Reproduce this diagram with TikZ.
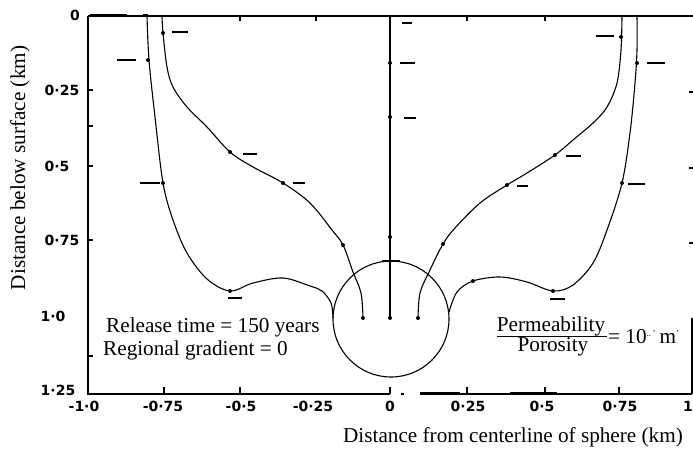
\documentclass[tikz,border=0pt]{standalone}
\usepackage{fontspec}
\setmainfont{Liberation Serif}
\newfontfamily\tickfont{DejaVu Sans}
\begin{document}
\begin{tikzpicture}[x=1pt,y=-1pt,
  axis/.style={line width=1.6pt},
  thickaxis/.style={line width=2.8pt},
  curve/.style={line width=1.1pt, smooth, tension=0.55},
  centreline/.style={line width=2pt},
  tickmark/.style={line width=1.3pt},
  dot/.style={circle, fill=black, inner sep=0pt, minimum size=4pt},
  lbl/.style={line width=2.6pt},
  ticklab/.style={font={\tickfont\bfseries\fontsize{14}{14}\selectfont}, inner sep=0pt},
  title/.style={font={\fontsize{21.2}{24}\selectfont}, inner sep=0pt},
]
\useasboundingbox (0,0) rectangle (693,450);

% frame
\draw[axis] (88,16) -- (88,394) -- (390,394);
\draw[axis] (88,16) -- (693,16);
\draw[thickaxis] (90,15) -- (127,15);
\draw[thickaxis] (143,15) -- (148,15);
\draw[line width=2.4pt] (363,16) -- (693,16);
\draw[axis] (420,394) -- (692,394);
\draw[line width=2.6pt] (420,393) -- (460,393);
\draw[line width=2.6pt] (510,393) -- (557,393);
\draw[line width=1.2pt] (401,394) -- (404,394);
\draw[axis] (692,318) -- (692,394);
\foreach \yy in {92,168,243} \draw[tickmark] (689,\yy) -- (693,\yy);

% ticks
\foreach \yy in {90,126,166,240,356} \draw[tickmark] (88,\yy) -- (93,\yy);
\foreach \xx in {164,240,390,467,545,619} \draw[tickmark] (\xx,394) -- (\xx,387);
\foreach \xx in {240,316,467,545} \draw[tickmark] (\xx,16) -- (\xx,21);

% tick labels
\node[ticklab] (y0) at (75,15) {0};
\node[ticklab] (y1) at (62,90) {0·25};
\node[ticklab] (y2) at (57,166) {0·5};
\node[ticklab] (y3) at (62,240) {0·75};
\node[ticklab] (y4) at (53,316) {1·0};
\node[ticklab] (y5) at (58,390) {1·25};
\node[ticklab] (x0) at (84,406) {-1·0};
\node[ticklab] (x1) at (163,406) {-0·75};
\node[ticklab] (x2) at (241,406) {-0·5};
\node[ticklab] (x3) at (313,406) {-0·25};
\node[ticklab] (x4) at (390,406) {0};
\node[ticklab] (x5) at (468,406) {0·25};
\node[ticklab] (x6) at (542,406) {0·5};
\node[ticklab] (x7) at (620,406) {0·75};
\node[ticklab, anchor=east] (x8) at (693,406) {1};

% axis titles
\node[title, rotate=90] (ytitle) at (20,168) {Distance below surface (km)};
\node[title] (xtitle) at (513,437) {Distance from centerline of sphere (km)};

% sphere
\node[draw, circle, line width=1.1pt, minimum size=116pt, inner sep=0pt] (sphere) at (391,319) {};
\draw[tickmark] (382,261) -- (400,261);

% centre streamline
\draw[centreline] (390,16) -- (390,318);

% inner streamlines
\draw[curve] plot coordinates {(418,318) (420,293) (429,272) (443,244) (455,228) (480,203) (507,185) (527,173) (555,155) (573,140) (593,123) (607,107) (617,83) (621,50) (622,16)};
\draw[curve] plot coordinates {(363,318) (361,293) (353,272) (343,245) (332,230) (310,203) (283,183) (253,167) (230,152) (207,127) (187,107) (173,87) (167,67) (163,33) (162,16)};

% outer streamlines
\draw[curve] plot coordinates {(449,312) (457,292) (473,281) (500,277) (527,282) (553,291) (573,285) (593,263) (607,230) (622,183) (630,133) (635,83) (637,50) (637,16)};
\draw[curve] plot coordinates {(333,318) (331,303) (322,291) (310,286) (283,278) (253,283) (230,291) (207,279) (187,253) (173,220) (163,183) (155,117) (149,60) (147,16)};

% dots
\node[dot] (c1) at (390,63) {};
\node[dot] (c2) at (390,117) {};
\node[dot] (c3) at (390,237) {};
\node[dot] (c4) at (390,318) {};
\node[dot] (r1) at (418,318) {};
\node[dot] (r2) at (443,244) {};
\node[dot] (r3) at (507,185) {};
\node[dot] (r4) at (555,155) {};
\node[dot] (r5) at (621,37) {};
\node[dot] (l1) at (363,318) {};
\node[dot] (l2) at (343,245) {};
\node[dot] (l3) at (283,183) {};
\node[dot] (l4) at (230,152) {};
\node[dot] (l5) at (163,33) {};
\node[dot] (ro1) at (473,281) {};
\node[dot] (ro2) at (553,291) {};
\node[dot] (ro3) at (622,183) {};
\node[dot] (ro4) at (637,63) {};
\node[dot] (lo1) at (230,291) {};
\node[dot] (lo2) at (163,183) {};
\node[dot] (lo3) at (148,60) {};

% small illegible time marks
\draw[lbl] (172,32) -- (188,32);
\draw[lbl] (117,60) -- (136,60);
\draw[lbl] (243,154) -- (257,154);
\draw[lbl] (293,183) -- (305,183);
\draw[lbl] (140,183) -- (160,183);
\draw[lbl] (402,23) -- (412,23);
\draw[lbl] (400,63) -- (415,63);
\draw[lbl] (404,118) -- (416,118);
\draw[lbl] (596,36) -- (614,36);
\draw[lbl] (647,63) -- (665,63);
\draw[lbl] (566,156) -- (581,156);
\draw[lbl] (517,186) -- (528,186);
\draw[lbl] (628,184) -- (645,184);
\draw[lbl] (228,298) -- (242,298);
\draw[lbl] (550,299) -- (565,299);

% annotations
\node[title, anchor=west] (rel) at (106,327) {Release time = 150 years};
\node[title, anchor=west] (reg) at (103,350) {Regional gradient = 0};
\node[title] (perm) at (551,326) {Permeability};
\node[title] (poro) at (553,347) {Porosity};
\draw[line width=0.9pt] (497,336) -- (607,336);
\node[title, anchor=west] (eq) at (608,337) {= 10\textsuperscript{\small ..\,'}\,m\textsuperscript{\small '}};
\end{tikzpicture}
\end{document}
